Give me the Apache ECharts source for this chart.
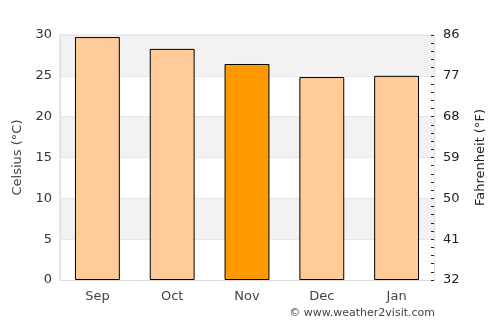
<!DOCTYPE html>
<html lang="en">
<head>
<meta charset="UTF-8">
<title>Celsius / Fahrenheit</title>
<style>
  html, body { margin: 0; padding: 0; background: #fff; }
  #main { width: 500px; height: 325px; }
</style>
</head>
<body>
<div id="main"></div>
<script src="https://cdn.jsdelivr.net/npm/echarts@6/dist/echarts.min.js"></script>
<script>
var months = ['Sep', 'Oct', 'Nov', 'Dec', 'Jan'];
var temps = [29.75, 28.3, 26.45, 24.85, 25.0];
var highlight = 'Nov';

var chart = echarts.init(document.getElementById('main'));

var font = 'DejaVu Sans';
var option = {
    animation: false,
    textStyle: { fontFamily: font },
    grid: { left: 60, right: 66, top: 35, bottom: 45, show: true, borderColor: '#ddd', borderWidth: 1 },
    graphic: [{
        type: 'text',
        right: 65, bottom: 6,
        style: { text: '\u00a9 www.weather2visit.com', font: '11px ' + font, fill: '#444' }
    }],
    xAxis: {
        type: 'category',
        data: months,
        axisLine: { show: true, lineStyle: { color: '#ddd' } },
        axisTick: { show: false },
        axisLabel: { color: '#444', fontSize: 13, margin: 10 }
    },
    yAxis: [{
        type: 'value',
        min: 0, max: 30, interval: 5,
        name: 'Celsius (\u00b0C)',
        nameLocation: 'middle',
        nameGap: 35,
        nameTextStyle: { color: '#444', fontSize: 13 },
        axisLine: { show: true, lineStyle: { color: '#ddd' } },
        axisTick: { show: false },
        axisLabel: { color: '#333', fontSize: 13, margin: 8 },
        splitLine: { show: true, lineStyle: { color: '#e6e6e6' } },
        splitArea: { show: true, areaStyle: { color: ['#fff', '#f2f2f2'] } }
    }, {
        type: 'value',
        min: 32, max: 86, interval: 9,
        position: 'right',
        name: 'Fahrenheit (\u00b0F)',
        nameLocation: 'middle',
        nameGap: 40,
        nameRotate: 90,
        nameTextStyle: { color: '#222', fontSize: 13 },
        axisLine: { show: true, lineStyle: { color: '#ddd' } },
        axisTick: { show: true, inside: true, length: 3, lineStyle: { color: '#222' } },
        minorTick: { show: true, splitNumber: 5, length: 3, lineStyle: { color: '#222' } },
        axisLabel: { color: '#222', fontSize: 13, margin: 9 },
        splitLine: { show: false }
    }],
    series: [{
        type: 'bar',
        barWidth: '60%',
        data: temps.map(function (v, i) {
            return {
                value: v,
                itemStyle: { color: months[i] === highlight ? '#ff9900' : '#ffcc99' }
            };
        }),
        itemStyle: { borderColor: '#000', borderWidth: 1 }
    }]
};
chart.setOption(option);
</script>
</body>
</html>
